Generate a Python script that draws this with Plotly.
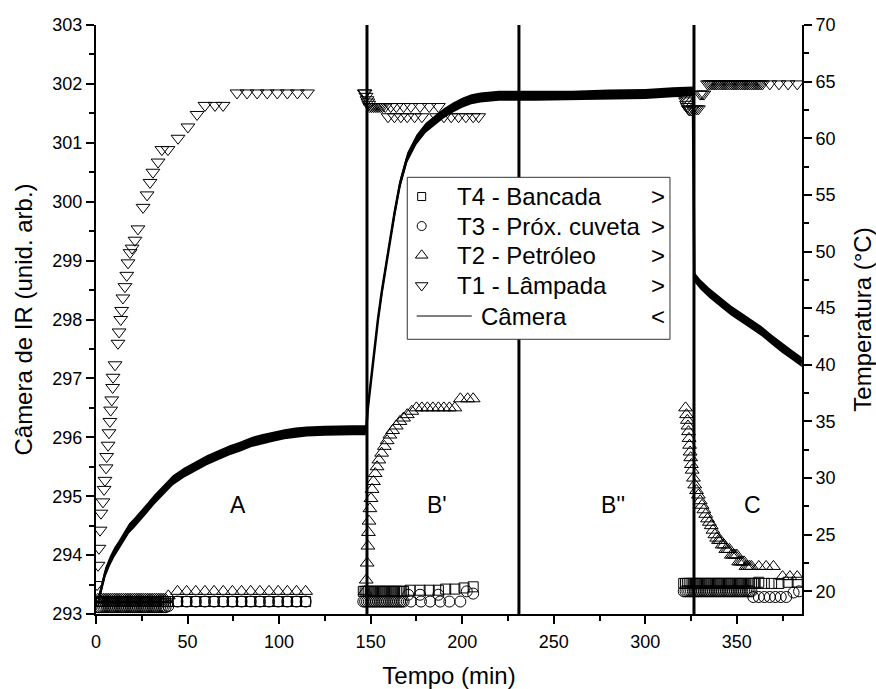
import plotly.graph_objects as go

FONT = "Arial, 'Liberation Sans', sans-serif"

# ---------------- data ----------------
# Camera signal (left axis, arbitrary units)
cam_t = [1.5, 3, 5, 7.6, 10, 12.2, 15, 18, 21, 24, 28, 32, 36, 42, 48, 54, 60.5, 67, 73, 78.6,
         85, 91, 96.8, 103, 109, 115, 125, 133, 140, 147.3,
         147.6, 148.5, 150, 152, 154, 156, 158, 160, 163, 166, 170, 175, 180, 185, 190, 195, 200,
         205, 210, 220, 240, 260, 280, 300, 315, 326,
         326.8, 330, 335, 341.7, 347, 352.7, 358, 363.6, 369, 374.6, 380, 385.5]
cam_v = [293.25, 293.45, 293.7, 293.9, 294.05, 294.15, 294.3, 294.45, 294.55, 294.65, 294.8, 294.95,
         295.08, 295.27, 295.4, 295.5, 295.61, 295.7, 295.78, 295.84, 295.92, 295.97, 296.01, 296.05,
         296.08, 296.1, 296.11, 296.12, 296.12, 296.12,
         296.15, 296.5, 296.9, 297.5, 298.0, 298.45, 298.85, 299.25, 299.8, 300.3, 300.75, 301.05,
         301.25, 301.38, 301.5, 301.6, 301.68, 301.74, 301.77, 301.8, 301.8, 301.8, 301.82, 301.83,
         301.86, 301.87,
         298.72, 298.6, 298.45, 298.28, 298.15, 298.03, 297.92, 297.8, 297.66, 297.52, 297.4, 297.28]

# T1 - lamp (right axis, degC)
t1_t = [0.5, 0.6, 1.1, 1.6, 2.2, 2.7, 3.8, 4.4, 4.9, 5.5, 5.8, 6.6, 7.1, 7.6, 8.0, 8.6, 9.1, 9.3,
        10.4, 12.0, 12.6, 13.5, 14.0, 14.7, 15.8, 16.8, 17.5, 18.6, 19.7, 21.3, 22.9, 25.7, 27.9,
        29.5, 31.1, 33.9, 36.0, 39.3, 44.8, 50.2, 55.2, 59.5, 65.0, 69.4, 77.0, 82.5, 88.0, 93.5,
        99.0, 104.5, 110.0, 115.5,
        146.5, 147.0, 147.5, 148.0, 148.5, 149.0, 149.5, 150.5, 151.5, 152.5, 153.5, 154.5, 155.5,
        156.5, 158, 159.5, 161, 163, 164, 166.5, 168, 170, 172, 174, 177, 178, 182, 186, 187, 190,
        194, 198, 202, 206, 209,
        321, 321.5, 322, 322.5, 323, 323.5, 324, 325, 326, 327, 328, 329, 330, 331, 332,
        334, 335, 336, 337, 338, 339, 340, 341, 342, 343, 344, 345, 346, 347, 348, 349, 350, 351,
        352, 353, 354, 355, 356, 357, 358, 359, 360, 361, 362, 363, 364, 368, 373, 378, 383]
t1_v = [19.2, 20.6, 22.3, 23.8, 25.4, 26.9, 27.9, 29.0, 29.8, 30.9, 31.9, 32.9, 34.0, 35.0, 36.0,
        36.9, 38.0, 38.9, 40.0, 41.9, 42.9, 44.0, 44.8, 45.9, 46.9, 47.9, 49.0, 49.9, 50.3, 51.0,
        52.0, 53.9, 55.0, 56.1, 57.0, 57.9, 59.0, 59.0, 60.0, 61.0, 62.1, 62.9, 62.9, 62.9, 64.0,
        64.0, 64.0, 64.0, 64.0, 64.0, 64.0, 64.0,
        64.0, 64.0, 63.7, 63.4, 63.2, 63.0, 62.8, 62.8, 62.8, 62.8, 62.8, 62.8, 62.8,
        62.8, 62.8, 61.9, 62.8, 61.9, 62.8, 61.9, 62.8, 61.9, 62.8, 61.9, 62.8, 61.9, 62.8, 61.9,
        62.8, 61.9, 61.9, 61.9, 61.9, 61.9, 61.9,
        63.9, 63.6, 63.3, 63.0, 62.8, 62.6, 62.5, 62.5, 62.6, 62.6, 62.6, 62.6, 63.9, 63.9, 63.9,
        64.8, 64.8, 64.8, 64.8, 64.8, 64.8, 64.8, 64.8, 64.8, 64.8, 64.8, 64.8, 64.8, 64.8, 64.8,
        64.8, 64.8, 64.8, 64.8, 64.8, 64.8, 64.8, 64.8, 64.8, 64.8, 64.8, 64.8, 64.8, 64.8, 64.8,
        64.8, 64.8, 64.8, 64.8, 64.8]

# T2 - petroleum
t2_t = [1, 2, 3, 4, 5, 6, 7, 8, 9, 10, 11, 12, 13, 14, 15, 16, 17, 18, 19, 20, 21, 22, 23, 24,
        25, 26, 27, 28, 29, 30, 31, 32, 33, 34, 35, 36, 37, 38,
        39.5, 44.5, 49.5, 54.5, 59.5, 64.5, 69.5, 74.5, 79.5, 84.5, 89.5, 94.5, 99.5, 104.5, 109.5,
        114.5,
        147.0, 147.6, 148.1, 148.5, 148.8, 149.1, 149.6, 150.2, 150.8, 151.5, 152.5, 153.5, 154.5,
        156, 157.5, 159, 160.5, 162, 164, 166, 168, 170, 172.5, 175, 178, 181, 184, 187, 190, 193,
        196, 199, 203, 206,
        322.0, 322.5, 323.0, 323.3, 323.6, 323.9, 324.2, 324.5, 324.8, 325.2, 325.6, 326.3, 327,
        328, 329, 330, 331, 332, 333, 334, 335, 336, 337, 338, 339, 340, 341, 342, 343, 344, 345,
        346, 347, 348, 349, 350, 351, 352, 353, 354, 355, 356, 357, 358, 362, 366, 370, 375, 379,
        383]
t2_v = [19.3] * 38 + [19.6, 20.0, 20.0, 20.0, 20.0, 20.0, 20.0, 20.0, 20.0, 20.0, 20.0, 20.0,
                      20.0, 20.0, 20.0, 20.0] + \
       [20.0, 21.0, 22.5, 24.0, 25.2, 26.2, 27.3, 28.2, 29.0, 29.7, 30.4, 31.0, 31.6, 32.2, 32.8,
        33.3, 33.8, 34.2, 34.6, 35.0, 35.3, 35.6, 35.9, 36.2, 36.2, 36.2, 36.2, 36.2, 36.2, 36.2,
        36.2, 37.0, 37.0, 37.0] + \
       [36.2, 35.6, 35.1, 34.6, 34.1, 33.5, 32.9, 32.3, 31.8, 31.2, 30.7, 30.0, 29.4, 28.9, 28.5,
        28.0, 27.6, 27.2, 26.8, 26.4, 26.1, 25.8, 25.4, 25.0, 24.7, 24.5, 24.5, 24.1, 24.1, 23.7,
        23.7, 23.7, 23.2, 23.2, 23.2, 23.2, 22.6, 22.6, 22.6, 22.6, 22.2, 22.2, 22.2, 22.2, 22.2,
        22.2, 22.2, 21.3, 21.3, 21.3]

# T3 - near cuvette
t3_t = list(range(1, 39)) + [39.5, 44.5, 49.5, 54.5, 59.5, 64.5, 69.5, 74.5, 79.5, 84.5, 89.5,
                             94.5, 99.5, 104.5, 109.5, 114.5] + \
       list(range(146, 169)) + [170.5, 172, 177, 177.5, 182.5, 187, 188, 193, 199, 202.5, 206] + \
       list(range(321, 359)) + [359, 362, 365, 368, 371, 374, 377, 381, 384]
t3_v = [18.6] * 38 + [18.7] + [19.1] * 15 + \
       [19.1] * 23 + [19.7, 19.1, 19.7, 19.1, 19.1, 19.7, 19.1, 19.1, 19.1, 20.0, 19.8] + \
       [20.0] * 38 + [19.5, 19.5, 19.5, 19.5, 19.5, 19.5, 19.5, 19.9, 20.0]

# T4 - bench
t4_t = list(range(1, 39)) + [39.5, 44.5, 49.5, 54.5, 59.5, 64.5, 69.5, 74.5, 79.5, 84.5, 89.5,
                             94.5, 99.5, 104.5, 109.5, 114.5] + \
       list(range(146, 169)) + [171.5, 177, 182, 187, 191, 196, 201, 206] + \
       list(range(321, 361)) + [362, 365, 369, 373, 378, 383]
t4_v = [19.1] * 38 + [19.1] * 16 + \
       [20.0] * 23 + [20.1, 20.1, 20.1, 20.1, 20.2, 20.2, 20.3, 20.4] + \
       [20.7] * 40 + [20.8, 20.7, 20.7, 20.7, 20.8, 20.8]

# Phase dividers and labels
divider_t = [148, 231, 326.6]
region_labels = ["A", "B'", "B''", "C"]
region_label_t = [77.5, 186.2, 282.4, 358.3]
region_label_v = [294.85, 294.85, 294.85, 294.85]

legend_names = ["T4 - Bancada", "T3 - Próx. cuveta", "T2 - Petróleo", "T1 - Lâmpada", "Câmera"]
legend_arrows = [">", ">", ">", ">", "<"]

# ---------------- styles ----------------
NOISE_HALF = 0.085  # half thickness of the noisy camera trace (left-axis units)

fig = go.Figure()

# camera band (noisy signal appearance)
band_x = cam_t + cam_t[::-1]
band_y = [v + NOISE_HALF for v in cam_v] + [v - NOISE_HALF for v in cam_v[::-1]]
fig.add_trace(go.Scatter(x=band_x, y=band_y, fill="toself", fillcolor="black",
                         line=dict(width=0, color="black"), mode="lines",
                         hoverinfo="skip", showlegend=False, yaxis="y"))
fig.add_trace(go.Scatter(x=cam_t, y=cam_v, mode="lines", line=dict(color="black", width=2.5),
                         name="Câmera", showlegend=False, yaxis="y"))

mk_line = dict(width=1, color="black")
fig.add_trace(go.Scatter(x=t4_t, y=t4_v, mode="markers", yaxis="y2", showlegend=False,
                         marker=dict(symbol="square-open", size=10, color="black", line=mk_line)))
fig.add_trace(go.Scatter(x=t3_t, y=t3_v, mode="markers", yaxis="y2", showlegend=False,
                         marker=dict(symbol="circle-open", size=11, color="black", line=mk_line)))
fig.add_trace(go.Scatter(x=t2_t, y=t2_v, mode="markers", yaxis="y2", showlegend=False,
                         marker=dict(symbol="triangle-up-open", size=12, color="black", line=mk_line)))
fig.add_trace(go.Scatter(x=t1_t, y=t1_v, mode="markers", yaxis="y2", showlegend=False,
                         marker=dict(symbol="triangle-down-open", size=12, color="black", line=mk_line)))

# ---------------- manual legend (overlay axes in plot-fraction units) ----------------
box_l, box_r, box_b, box_t = 0.4409, 0.8130, 0.4664, 0.7414
row_y = [0.7088, 0.6587, 0.6090, 0.5577, 0.5059]
sym_x = 0.4613
text_x = 0.5085
cam_text_x = 0.5429
line_x = [0.4542, 0.5322]
arrow_x = 0.7960

fig.add_trace(go.Scatter(x=[box_l, box_r, box_r, box_l, box_l], y=[box_b, box_b, box_t, box_t, box_b],
                         fill="toself", fillcolor="white", mode="lines",
                         line=dict(color="#333333", width=1), xaxis="x2", yaxis="y3",
                         hoverinfo="skip", showlegend=False))
leg_symbols = ["square-open", "circle-open", "triangle-up-open", "triangle-down-open"]
leg_sizes = [8, 9, 11, 11]
for i in range(4):
    fig.add_trace(go.Scatter(x=[sym_x], y=[row_y[i]], mode="markers", xaxis="x2", yaxis="y3",
                             showlegend=False, hoverinfo="skip",
                             marker=dict(symbol=leg_symbols[i], size=leg_sizes[i], color="black",
                                         line=dict(width=1, color="black"))))
fig.add_trace(go.Scatter(x=line_x, y=[row_y[4], row_y[4]], mode="lines", xaxis="x2", yaxis="y3",
                         showlegend=False, hoverinfo="skip", line=dict(color="black", width=1)))

annotations = []
for i, name in enumerate(legend_names):
    annotations.append(dict(x=(cam_text_x if i == 4 else text_x), y=row_y[i], xref="paper",
                            yref="paper", text=name, showarrow=False, xanchor="left",
                            yanchor="middle", font=dict(family=FONT, size=24, color="black")))
    annotations.append(dict(x=arrow_x, y=row_y[i], xref="paper", yref="paper", text=legend_arrows[i],
                            showarrow=False, xanchor="center", yanchor="middle",
                            font=dict(family=FONT, size=24, color="black")))
for lab, lt, lv in zip(region_labels, region_label_t, region_label_v):
    annotations.append(dict(x=lt, y=lv, xref="x", yref="y", text=lab, showarrow=False,
                            xanchor="center", yanchor="middle",
                            font=dict(family=FONT, size=23, color="black")))

shapes = [dict(type="line", x0=d, x1=d, y0=0, y1=1, xref="x", yref="paper",
               line=dict(color="black", width=3), layer="below") for d in divider_t]

tickfont = dict(family=FONT, size=18, color="black")
titlefont = dict(family=FONT, size=24, color="black")
common = dict(showline=True, linewidth=2, linecolor="black", ticks="outside", ticklen=8,
              tickwidth=2, tickcolor="black", showgrid=False, zeroline=False, tickfont=tickfont,
              automargin=False)

fig.update_layout(
    width=876, height=689,
    margin=dict(l=96, r=74, t=25, b=75, autoexpand=False),
    paper_bgcolor="white", plot_bgcolor="white",
    showlegend=False,
    xaxis=dict(range=[0, 385.6], tick0=0, dtick=50, ticklabelstandoff=2,
               minor=dict(dtick=25, ticks="outside", ticklen=5, tickwidth=2, tickcolor="black"),
               title=dict(text="Tempo (min)", font=titlefont, standoff=20), **common),
    yaxis=dict(range=[293, 303], tick0=293, dtick=1,
               minor=dict(dtick=0.5, ticks="outside", ticklen=5, tickwidth=2, tickcolor="black"),
               title=dict(text="Câmera de IR (unid. arb.)", font=titlefont, standoff=13), **common),
    yaxis2=dict(range=[18, 70], tick0=0, dtick=5, overlaying="y", side="right", anchor="x",
                minor=dict(dtick=2.5, ticks="outside", ticklen=5, tickwidth=2, tickcolor="black"),
                title=dict(text="Temperatura (°C)", font=titlefont, standoff=22), **common),
    xaxis2=dict(range=[0, 1], overlaying="x", visible=False, anchor="y3"),
    yaxis3=dict(range=[0, 1], overlaying="y", visible=False, anchor="x2"),
    annotations=annotations,
    shapes=shapes,
)

fig.write_html("out.html")
